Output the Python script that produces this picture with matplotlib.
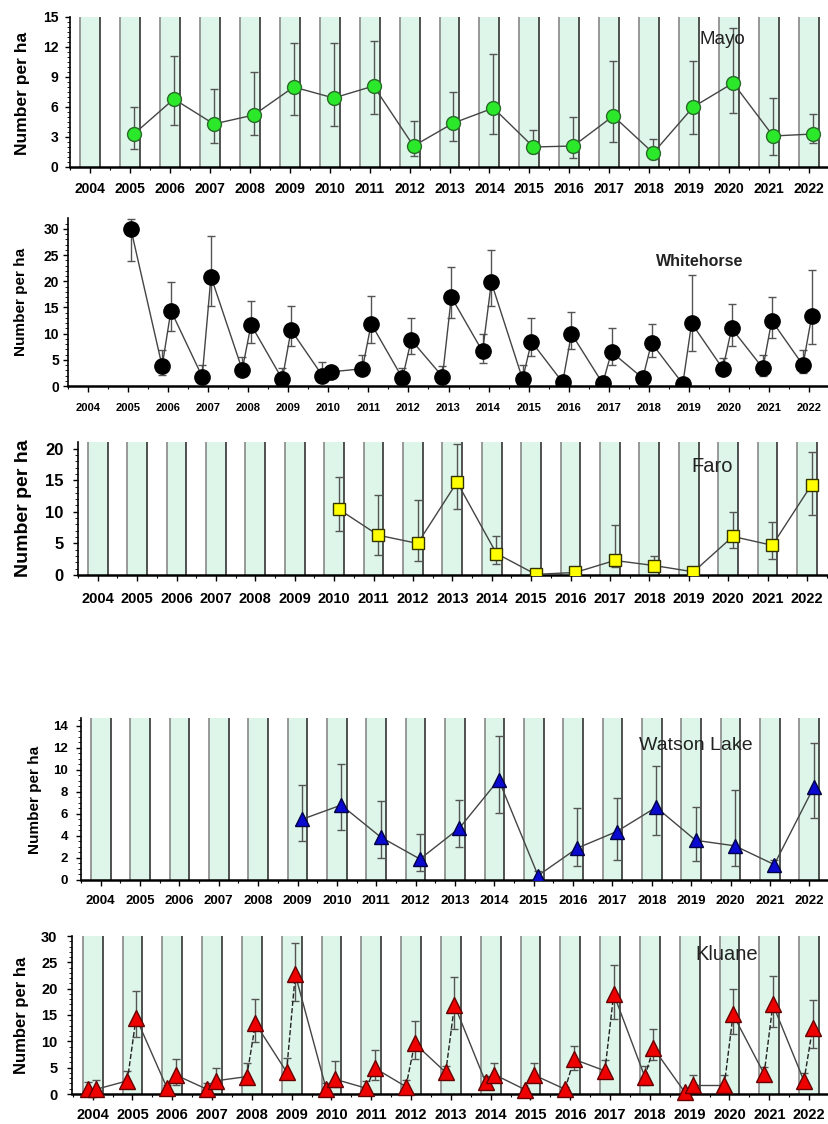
import matplotlib.pyplot as plt
import numpy as np

plt.rcParams['font.family'] = ['Liberation Sans', 'DejaVu Sans']

W, H = 829, 1124
all_years = list(range(2004, 2023))

# Mayo: one survey per year
mayo_years = list(range(2005, 2023))
mayo_val = [3.3, 6.8, 4.3, 5.2, 8.0, 6.9, 8.1, 2.1, 4.4, 5.9, 2.0, 2.1, 5.1, 1.4, 6.0, 8.4, 3.1, 3.3]
mayo_lo = [1.8, 4.2, 2.4, 3.2, 5.2, 4.1, 5.3, 1.1, 2.6, 3.3, 1.4, 0.9, 2.5, 0.8, 3.3, 5.4, 1.2, 2.4]
mayo_hi = [6.0, 11.1, 7.8, 9.5, 12.4, 12.4, 12.6, 4.6, 7.5, 11.3, 3.7, 5.0, 10.6, 2.8, 10.6, 13.9, 6.9, 5.3]

# Whitehorse: spring and fall surveys
wh_spring_years = list(range(2006, 2023))
wh_spring = [3.8, 1.8, 3.1, 1.3, 2.0, 3.3, 1.5, 1.8, 6.6, 1.3, 0.7, 0.5, 1.5, 0.4, 3.3, 3.4, 4.0]
wh_spring_lo = [2.1, 1.0, 2.0, 0.6, 1.0, 2.2, 0.8, 1.0, 4.3, 0.6, 0.3, 0.2, 0.8, 0.1, 2.3, 2.0, 2.4]
wh_spring_hi = [6.9, 4.0, 5.6, 3.4, 4.5, 5.9, 3.5, 3.9, 9.9, 4.1, 1.5, 1.0, 2.6, 0.9, 5.3, 5.9, 6.8]
wh_fall_years = list(range(2005, 2023))
wh_fall = [30.0, 14.4, 20.9, 11.7, 10.7, 2.7, 11.9, 8.8, 17.0, 19.8, 8.5, 10.0, 6.5, 8.2, 12.0, 11.0, 12.5, 13.4]
wh_fall_lo = [23.8, 10.5, 15.3, 8.3, 7.7, 2.1, 8.2, 6.1, 13.0, 15.2, 5.7, 7.0, 4.1, 5.6, 6.7, 7.7, 9.1, 8.0]
wh_fall_hi = [32.0, 19.8, 28.7, 16.3, 15.2, 3.3, 17.2, 13.0, 22.7, 25.9, 13.0, 14.2, 11.0, 11.8, 21.2, 15.6, 17.1, 22.2]

# Faro
faro_years = list(range(2010, 2023))
faro_val = [10.4, 6.3, 5.0, 14.7, 3.4, 0.1, 0.4, 2.3, 1.5, 0.5, 6.1, 4.7, 14.3]
faro_lo = [6.9, 3.2, 2.2, 10.5, 1.8, 0.0, 0.1, 1.3, 0.8, 0.2, 4.2, 2.6, 9.5]
faro_hi = [15.5, 12.6, 11.9, 20.8, 6.2, 0.4, 0.9, 7.9, 3.0, 0.9, 10.0, 8.4, 19.5]

# Watson Lake
wl_years = list(range(2009, 2023))
wl_val = [5.5, 6.8, 3.9, 1.9, 4.7, 9.1, 0.4, 2.9, 4.4, 6.6, 3.6, 3.1, 1.4, 8.4]
wl_lo = [3.5, 4.5, 2.0, 0.8, 3.0, 6.1, 0.1, 1.3, 1.8, 4.1, 1.7, 1.3, 0.9, 5.6]
wl_hi = [8.6, 10.5, 7.2, 4.2, 7.3, 13.1, 0.8, 6.5, 7.4, 10.3, 6.6, 8.2, 1.8, 12.4]

# Kluane: spring and fall surveys
kl_years = list(range(2004, 2023))
kl_spring = [0.9, 2.5, 1.1, 0.9, 3.3, 4.2, 0.9, 1.1, 1.4, 4.1, 2.3, 0.8, 0.9, 4.4, 3.3, 0.4, 1.7, 3.8, 2.5]
kl_spring_lo = [0.4, 1.7, 0.5, 0.4, 2.0, 2.8, 0.4, 0.5, 0.7, 3.3, 1.6, 0.3, 0.4, 3.3, 1.8, 0.1, 1.0, 3.0, 1.9]
kl_spring_hi = [2.3, 4.4, 1.8, 2.0, 5.8, 6.8, 2.0, 2.5, 2.7, 5.4, 3.4, 1.2, 1.3, 6.4, 5.4, 0.8, 3.6, 5.1, 3.9]
kl_fall = [0.9, 14.5, 3.6, 2.5, 13.4, 22.7, 2.8, 4.9, 9.6, 16.9, 3.7, 3.6, 6.6, 19.0, 8.7, 1.7, 15.1, 17.0, 12.6]
kl_fall_lo = [0.4, 10.9, 1.8, 1.4, 9.9, 17.6, 1.4, 2.7, 6.6, 12.4, 2.7, 2.3, 4.5, 14.3, 6.4, 1.0, 11.3, 12.8, 8.7]
kl_fall_hi = [2.7, 19.6, 6.6, 4.9, 18.1, 28.7, 6.3, 8.3, 13.9, 22.2, 5.8, 5.8, 9.2, 24.4, 12.3, 3.6, 19.9, 22.4, 17.8]

BAND = '#ddf6e9'
LINE = '#444444'
ERR = '#555555'


def px_rect(left, top, right, bottom):
    return [left / W, 1 - bottom / H, (right - left) / W, (bottom - top) / H]


def setup(ax, xlim, ylim, yticks, yminor, xfs, yfs, xpad, ypad, bands=True):
    ax.set_xlim(*xlim)
    ax.set_ylim(*ylim)
    for s in ['top', 'right']:
        ax.spines[s].set_visible(False)
    ax.spines['bottom'].set_linewidth(1.8)
    ax.spines['left'].set_linewidth(1.2)
    ax.set_xticks(all_years, labels=[str(y) for y in all_years], fontsize=xfs, fontweight='bold')
    ax.set_xticks(np.arange(2003.5, 2023, 1.0), minor=True)
    ax.set_yticks(yticks, labels=[str(v) for v in yticks], fontsize=yfs, fontweight='bold')
    ax.set_yticks(yminor, minor=True)
    ax.tick_params(axis='x', which='major', direction='out', length=4, width=1, pad=xpad)
    ax.tick_params(axis='x', which='minor', direction='out', length=2.5, width=0.8)
    ax.tick_params(axis='y', which='major', direction='out', length=3.5, width=1, pad=ypad)
    ax.tick_params(axis='y', which='minor', direction='out', length=2, width=0.6)
    if bands:
        for y in all_years:
            ax.axvspan(y - 0.25, y + 0.25, color=BAND, lw=0, zorder=0)
            ax.axvline(y - 0.25, color='#888888', lw=1.2, zorder=1)
            ax.axvline(y + 0.25, color='#333333', lw=1.2, zorder=1)


def errs(val, lo, hi):
    return [np.array(val) - np.array(lo), np.array(hi) - np.array(val)]


fig = plt.figure(figsize=(W / 100, H / 100), dpi=100)

# ---- Mayo
ax = fig.add_axes(px_rect(70, 17, 829, 167))
setup(ax, (2003.525, 2022.5), (0, 15), list(range(0, 16, 3)), np.arange(0, 15.1, 0.5),
      xfs=10, yfs=10, xpad=7, ypad=5)
x = np.array(mayo_years) + 0.1
ax.errorbar(x, mayo_val, yerr=errs(mayo_val, mayo_lo, mayo_hi), fmt='none', ecolor=ERR,
            elinewidth=1, capsize=3, zorder=3)
ax.plot(x, mayo_val, color=LINE, lw=1, marker='o', ms=10, mfc='#2be82b', mec='#2a6a2a',
        mew=1, zorder=4)
fig.text(722 / W, 1 - 40 / H, 'Mayo', fontsize=13.5, color='#222222', ha='center', va='center')
fig.text(23 / W, 1 - 93 / H, 'Number per ha', fontsize=12.5, fontweight='bold', rotation=90,
         ha='center', va='center')

# ---- Whitehorse
ax = fig.add_axes(px_rect(68, 218, 829, 386))
setup(ax, (2003.525, 2022.5), (0, 32.1), list(range(0, 31, 5)), np.arange(0, 32, 1),
      xfs=8, yfs=10, xpad=8, ypad=3, bands=False)
xs = np.array(wh_spring_years) - 0.15
xf = np.array(wh_fall_years) + 0.07
ax.errorbar(xs, wh_spring, yerr=errs(wh_spring, wh_spring_lo, wh_spring_hi), fmt='none',
            ecolor=ERR, elinewidth=1, capsize=3, zorder=3)
ax.errorbar(xf, wh_fall, yerr=errs(wh_fall, wh_fall_lo, wh_fall_hi), fmt='none',
            ecolor=ERR, elinewidth=1, capsize=3, zorder=3)
seq_x = [xf[0]]
seq_y = [wh_fall[0]]
for i in range(len(wh_spring)):
    seq_x += [xs[i], xf[i + 1]]
    seq_y += [wh_spring[i], wh_fall[i + 1]]
ax.plot(seq_x, seq_y, color=LINE, lw=1, zorder=4)
ax.plot(seq_x, seq_y, ls='none', marker='o', ms=11, mfc='black', mec='black', zorder=5)
fig.text(700 / W, 1 - 262 / H, 'Whitehorse', fontsize=11.5, fontweight='bold',
         color='#222222', ha='center', va='center')
fig.text(21 / W, 1 - 302 / H, 'Number per ha', fontsize=11, fontweight='bold', rotation=90,
         ha='center', va='center')

# ---- Faro
ax = fig.add_axes(px_rect(78, 442, 829, 575))
setup(ax, (2003.5, 2022.56), (0, 21.05), list(range(0, 21, 5)), np.arange(0, 21, 1),
      xfs=10.5, yfs=12, xpad=8, ypad=7)
x = np.array(faro_years) + 0.12
ax.errorbar(x, faro_val, yerr=errs(faro_val, faro_lo, faro_hi), fmt='none', ecolor=ERR,
            elinewidth=1, capsize=3, zorder=3)
ax.plot(x, faro_val, color=LINE, lw=1, marker='s', ms=8, mfc='#ffff00', mec='#333300',
        mew=1, zorder=4)
fig.text(712 / W, 1 - 466 / H, 'Faro', fontsize=14.5, color='#222222', ha='center', va='center')
fig.text(24 / W, 1 - 508 / H, 'Number per ha', fontsize=14, fontweight='bold', rotation=90,
         ha='center', va='center')

# ---- Watson Lake
ax = fig.add_axes(px_rect(81, 718, 829, 880))
setup(ax, (2003.52, 2022.41), (0, 14.7), list(range(0, 15, 2)), np.arange(0, 14.7, 0.5),
      xfs=9.5, yfs=9.5, xpad=7, ypad=6)
x = np.array(wl_years) + 0.11
ax.errorbar(x, wl_val, yerr=errs(wl_val, wl_lo, wl_hi), fmt='none', ecolor=ERR,
            elinewidth=1, capsize=3, zorder=3)
ax.plot(x, wl_val, color=LINE, lw=1, marker='^', ms=10, mfc='#0a0ad0', mec='#000044',
        mew=1, zorder=4)
fig.text(696 / W, 1 - 745 / H, 'Watson Lake', fontsize=14, color='#222222', ha='center', va='center')
fig.text(35 / W, 1 - 800 / H, 'Number per ha', fontsize=11, fontweight='bold', rotation=90,
         ha='center', va='center')

# ---- Kluane
ax = fig.add_axes(px_rect(72, 936, 829, 1094))
setup(ax, (2003.48, 2022.28), (0, 30), list(range(0, 31, 5)), np.arange(0, 30.1, 1),
      xfs=10.5, yfs=10.5, xpad=6, ypad=7)
xs = np.array(kl_years) - 0.13
xf = np.array(kl_years) + 0.09
ax.errorbar(xs, kl_spring, yerr=errs(kl_spring, kl_spring_lo, kl_spring_hi), fmt='none',
            ecolor=ERR, elinewidth=1, capsize=3, zorder=3)
ax.errorbar(xf, kl_fall, yerr=errs(kl_fall, kl_fall_lo, kl_fall_hi), fmt='none',
            ecolor=ERR, elinewidth=1, capsize=3, zorder=3)
for i in range(len(kl_years)):
    ax.plot([xs[i], xf[i]], [kl_spring[i], kl_fall[i]], color='#222222', lw=1, ls='--', zorder=4)
    if i < len(kl_years) - 1:
        ax.plot([xf[i], xs[i + 1]], [kl_fall[i], kl_spring[i + 1]], color=LINE, lw=1, zorder=4)
for xx, yy in [(xs, kl_spring), (xf, kl_fall)]:
    ax.plot(xx, yy, ls='none', marker='^', ms=11, mfc='#ee0000', mec='#660000', mew=1,
            zorder=5, clip_on=False)
fig.text(727 / W, 1 - 955 / H, 'Kluane', fontsize=14.5, color='#222222', ha='center', va='center')
fig.text(22 / W, 1 - 1015 / H, 'Number per ha', fontsize=12, fontweight='bold', rotation=90,
         ha='center', va='center')

fig.savefig('out.png', dpi=100)
